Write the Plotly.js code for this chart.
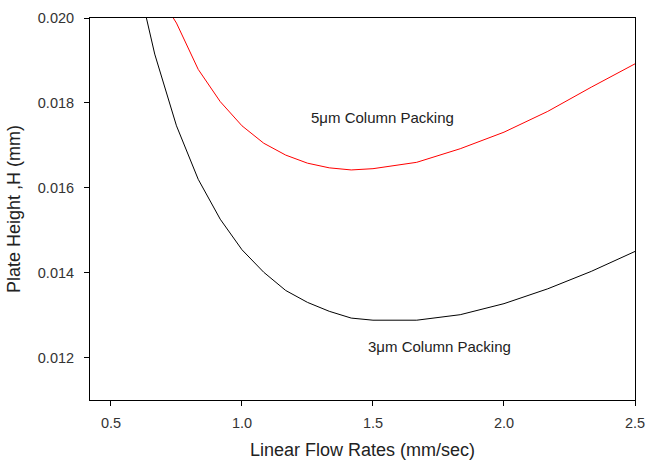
<!DOCTYPE html>
<html>
<head>
<meta charset="utf-8">
<script src="https://cdn.plot.ly/plotly-3.0.1.min.js"></script>
<style>html,body{margin:0;padding:0;background:#fff;}#chart{width:647px;height:464px;}</style>
</head>
<body>
<div id="chart"></div>
<script>
const flow3 = [0.583, 0.667, 0.75, 0.833, 0.917, 1.0, 1.083, 1.167, 1.25, 1.333, 1.417, 1.5, 1.667, 1.833, 2.0, 2.167, 2.333, 2.5];
const height3 = [0.0214, 0.01915, 0.01746, 0.01620, 0.01526, 0.01454, 0.01401, 0.01358, 0.01330, 0.01309, 0.01293, 0.01288, 0.01288, 0.01301, 0.01327, 0.01362, 0.01403, 0.01450];
const flow5 = [0.667, 0.75, 0.833, 0.917, 1.0, 1.083, 1.167, 1.25, 1.333, 1.417, 1.5, 1.667, 1.833, 2.0, 2.167, 2.333, 2.5];
const height5 = [0.0207, 0.01988, 0.01879, 0.01803, 0.01746, 0.01705, 0.01677, 0.01658, 0.01647, 0.01642, 0.01645, 0.01660, 0.01692, 0.01731, 0.01780, 0.01837, 0.01892];
const xTicks = [0.5, 1.0, 1.5, 2.0, 2.5];
const xTickLabels = ["0.5", "1.0", "1.5", "2.0", "2.5"];
const yTicks = [0.012, 0.014, 0.016, 0.018, 0.020];
const yTickLabels = ["0.012", "0.014", "0.016", "0.018", "0.020"];
const labels = ["5\u03bcm Column Packing", "3\u03bcm Column Packing"];
const labelX = [1.535, 1.752];
const labelY = [0.017647, 0.012266];

const font = "Liberation Sans, Arial, sans-serif";
const traces = [
  {x: flow3, y: height3, mode: "lines", line: {color: "#000000", width: 1}, hoverinfo: "skip"},
  {x: flow5, y: height5, mode: "lines", line: {color: "#ff0000", width: 1}, hoverinfo: "skip"}
];
const layout = {
  width: 647, height: 464,
  margin: {l: 90, r: 12, t: 18, b: 64},
  paper_bgcolor: "#fff", plot_bgcolor: "#fff",
  showlegend: false,
  font: {family: font, color: "#222", size: 14},
  xaxis: {
    range: [0.42, 2.5], tickvals: xTicks, ticktext: xTickLabels,
    ticks: "outside", ticklen: 5, tickwidth: 1, tickcolor: "#000",
    ticklabelstandoff: 5,
    showline: true, linecolor: "#000", linewidth: 1, mirror: true,
    showgrid: false, zeroline: false,
    tickfont: {size: 14.5, color: "#333"},
    title: {text: "Linear Flow Rates (mm/sec)", font: {size: 18, color: "#222"}, standoff: 12}
  },
  yaxis: {
    range: [0.011, 0.020], tickvals: yTicks, ticktext: yTickLabels,
    ticks: "outside", ticklen: 5, tickwidth: 1, tickcolor: "#000",
    ticklabelstandoff: 7,
    showline: true, linecolor: "#000", linewidth: 1, mirror: true,
    showgrid: false, zeroline: false,
    tickfont: {size: 14.5, color: "#333"},
    title: {text: "Plate Height ,H (mm)", font: {size: 18, color: "#222"}, standoff: 12}
  },
  annotations: labels.map((t, i) => ({
    x: labelX[i], y: labelY[i], xref: "x", yref: "y", text: t, showarrow: false,
    font: {size: 15, color: "#222", family: font}, xanchor: "center", yanchor: "middle"
  }))
};
Plotly.newPlot("chart", traces, layout, {displayModeBar: false, staticPlot: true});
</script>
</body>
</html>
